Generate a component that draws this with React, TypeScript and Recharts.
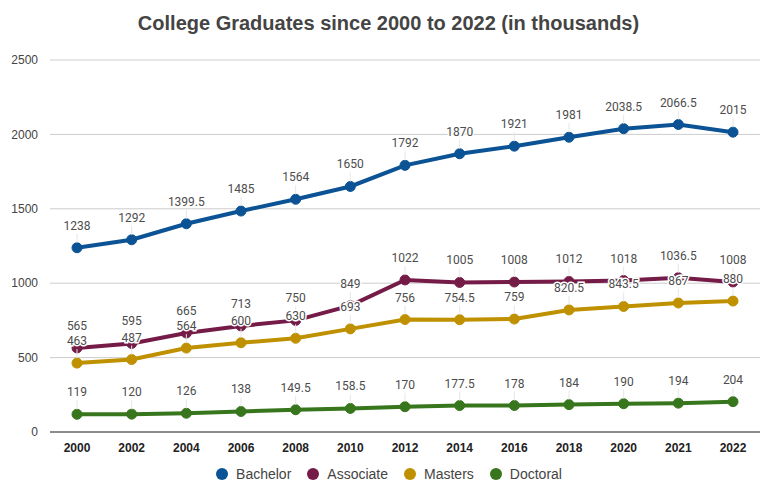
import { CartesianGrid, LabelList, Legend, Line, LineChart, XAxis, YAxis } from "recharts";

const YEARS = ["2000", "2002", "2004", "2006", "2008", "2010", "2012", "2014", "2016", "2018", "2020", "2021", "2022"];
const BACHELOR = [1238, 1292, 1399.5, 1485, 1564, 1650, 1792, 1870, 1921, 1981, 2038.5, 2066.5, 2015];
const ASSOCIATE = [565, 595, 665, 713, 750, 849, 1022, 1005, 1008, 1012, 1018, 1036.5, 1008];
const MASTERS = [463, 487, 564, 600, 630, 693, 756, 754.5, 759, 820.5, 843.5, 867, 880];
const DOCTORAL = [119, 120, 126, 138, 149.5, 158.5, 170, 177.5, 178, 184, 190, 194, 204];
const Y_TICKS = [0, 500, 1000, 1500, 2000, 2500];

const SERIES = [
  { key: "bachelor", name: "Bachelor", color: "#0b5394" },
  { key: "associate", name: "Associate", color: "#741b47" },
  { key: "masters", name: "Masters", color: "#bf9000" },
  { key: "doctoral", name: "Doctoral", color: "#38761d" },
];

const data = YEARS.map((year, i) => ({
  year,
  bachelor: BACHELOR[i],
  associate: ASSOCIATE[i],
  masters: MASTERS[i],
  doctoral: DOCTORAL[i],
}));

const SANS = "Arial, 'Liberation Sans', sans-serif";

function PointLabel(props: any) {
  const { x, y, value } = props;
  return (
    <g>
      <line x1={x} x2={x} y1={y - 14} y2={y - 5} stroke="#e6e6e6" strokeWidth={1} />
      <text
        x={x}
        y={y - 18}
        textAnchor="middle"
        fontSize={12}
        fontFamily="Roboto, sans-serif"
        fill="#4d4d4d"
        stroke="#fff"
        strokeWidth={3}
        paintOrder="stroke"
      >
        {value}
      </text>
    </g>
  );
}

function LegendBox() {
  return (
    <div style={{ display: "flex", justifyContent: "center", fontFamily: SANS, fontSize: 14, color: "#444", height: 20, alignItems: "center", paddingLeft: 10 }}>
      {SERIES.map((s) => (
        <div key={s.key} style={{ display: "flex", alignItems: "center", margin: "0 8px" }}>
          <span style={{ width: 12, height: 12, borderRadius: 6, background: s.color, marginRight: 8, display: "inline-block" }} />
          <span>{s.name}</span>
        </div>
      ))}
    </div>
  );
}

export default function App() {
  return (
    <div style={{ position: "absolute", left: 0, top: 0, width: 777, height: 499, background: "#fff" }}>
      <div style={{ position: "absolute", top: 12, width: 777, textAlign: "center", fontFamily: SANS, fontWeight: "bold", fontSize: 20, color: "#444" }}>
        College Graduates since 2000 to 2022 (in thousands)
      </div>
      <LineChart width={777} height={499} data={data} margin={{ top: 60, right: 17, left: 8, bottom: 15 }}>
        <CartesianGrid stroke="#cccccc" vertical={false} />
        <XAxis
          dataKey="year"
          tickLine={false}
          axisLine={{ stroke: "#333" }}
          height={32}
          padding={{ left: 27, right: 27 }}
          tick={{ fill: "#222", fontSize: 12, fontWeight: "bold", fontFamily: SANS }}
          tickMargin={5}
        />
        <YAxis
          domain={[0, 2500]}
          ticks={Y_TICKS}
          width={42}
          tickLine={false}
          axisLine={false}
          tick={{ fill: "#444", fontSize: 12, fontFamily: SANS }}
          tickMargin={6}
        />
        <Legend verticalAlign="bottom" content={() => <LegendBox />} />
        {SERIES.map((s) => (
          <Line
            key={s.key}
            dataKey={s.key}
            name={s.name}
            stroke={s.color}
            strokeWidth={4}
            dot={{ r: 5, fill: s.color, stroke: s.color, strokeWidth: 1 }}
            activeDot={false}
            isAnimationActive={false}
          >
            <LabelList dataKey={s.key} content={PointLabel} />
          </Line>
        ))}
      </LineChart>
    </div>
  );
}
